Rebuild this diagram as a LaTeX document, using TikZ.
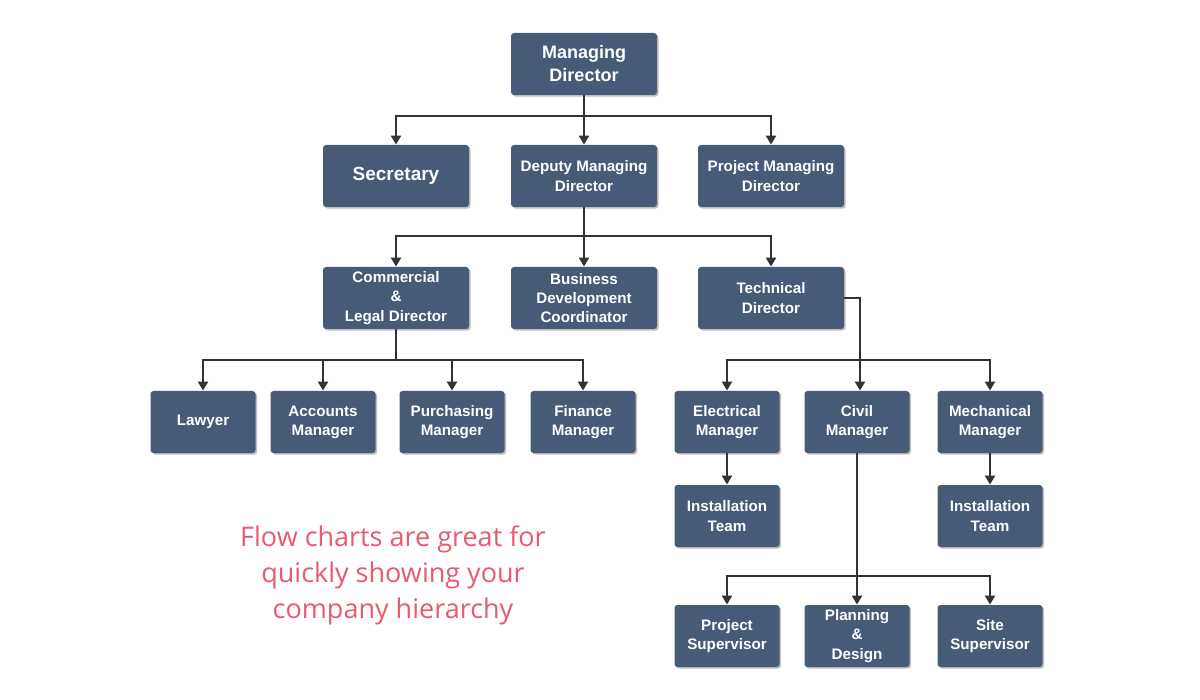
\documentclass[tikz,border=0pt]{standalone}
\usepackage{fontspec}
\setmainfont{Liberation Sans}
\newfontfamily\redfont{Open Sans}
\usetikzlibrary{arrows.meta,shadows}
\definecolor{boxc}{HTML}{475A78}
\definecolor{linec}{HTML}{333333}
\definecolor{redc}{HTML}{E85A6E}
\tikzset{
 box/.style={fill=boxc,rounded corners=1.5pt,text=white,font=\bfseries\fontsize{7.6}{9.6}\selectfont,align=center,minimum width=73pt,minimum height=31pt,inner sep=1pt,drop shadow={shadow xshift=0.8pt,shadow yshift=-0.8pt,opacity=0.25,fill=black}},
 sbox/.style={box,minimum width=52.5pt},
 conn/.style={draw=linec,line width=1.1pt,-{Triangle[length=4.5pt,width=5pt]}},
 lin/.style={draw=linec,line width=1.1pt}
}
\begin{document}
\begin{tikzpicture}[x=0.5pt,y=-0.5pt]
\useasboundingbox (0,0) rectangle (1200,700);
\node[box,font=\bfseries\fontsize{9}{11.5}\selectfont] (md) at (584,64) {Managing\\Director};
\node[box,font=\bfseries\fontsize{9.5}{11}\selectfont] (sec) at (396,176) {Secretary};
\node[box] (dep) at (584,176) {Deputy Managing\\Director};
\node[box] (pmd) at (771,176) {Project Managing\\Director};
\node[box] (com) at (396,298) {Commercial\\\&\\Legal Director};
\node[box] (bdc) at (584,298) {Business\\Development\\Coordinator};
\node[box] (tec) at (771,298) {Technical\\Director};
\node[sbox] (law) at (203,422) {Lawyer};
\node[sbox] (acc) at (323,422) {Accounts\\Manager};
\node[sbox] (pur) at (452,422) {Purchasing\\Manager};
\node[sbox] (fin) at (583,422) {Finance\\Manager};
\node[sbox] (ele) at (727,422) {Electrical\\Manager};
\node[sbox] (civ) at (857,422) {Civil\\Manager};
\node[sbox] (mec) at (990,422) {Mechanical\\Manager};
\node[sbox] (it1) at (727,516) {Installation\\Team};
\node[sbox] (it2) at (990,516) {Installation\\Team};
\node[sbox] (ps) at (727,636) {Project\\Supervisor};
\node[sbox] (pd) at (857,636) {Planning\\\&\\Design};
\node[sbox] (ss) at (990,636) {Site\\Supervisor};

\coordinate (b1) at (584,116);
\draw[lin] (md.south) -- (b1);
\draw[conn] (b1) -| (sec.north);
\draw[conn] (b1) -- (dep.north);
\draw[conn] (b1) -| (pmd.north);

\coordinate (b2) at (584,236);
\draw[lin] (dep.south) -- (b2);
\draw[conn] (b2) -| (com.north);
\draw[conn] (b2) -- (bdc.north);
\draw[conn] (b2) -| (tec.north);

\coordinate (b3) at (396,360);
\draw[lin] (com.south) -- (b3);
\draw[conn] (b3) -| (law.north);
\draw[conn] (b3) -| (acc.north);
\draw[conn] (b3) -| (pur.north);
\draw[conn] (b3) -| (fin.north);

\coordinate (t1) at (860,298);
\coordinate (b4) at (860,360);
\draw[lin] (tec.east) -- (t1) -- (b4);
\draw[conn] (b4) -| (ele.north);
\draw[conn] (b4) -- (b4 |- civ.north);
\draw[conn] (b4) -| (mec.north);

\draw[conn] (ele) -- (it1);
\draw[conn] (mec) -- (it2);

\coordinate (b5) at (857,576);
\draw[lin] (civ.south) -- (b5);
\draw[conn] (b5) -| (ps.north);
\draw[conn] (b5) -- (pd.north);
\draw[conn] (b5) -| (ss.north);

\node[text=redc,font=\redfont\fontsize{13.5}{18}\selectfont,align=center] (cap) at (393,575) {Flow charts are great for\\quickly showing your\\company hierarchy};
\end{tikzpicture}
\end{document}
